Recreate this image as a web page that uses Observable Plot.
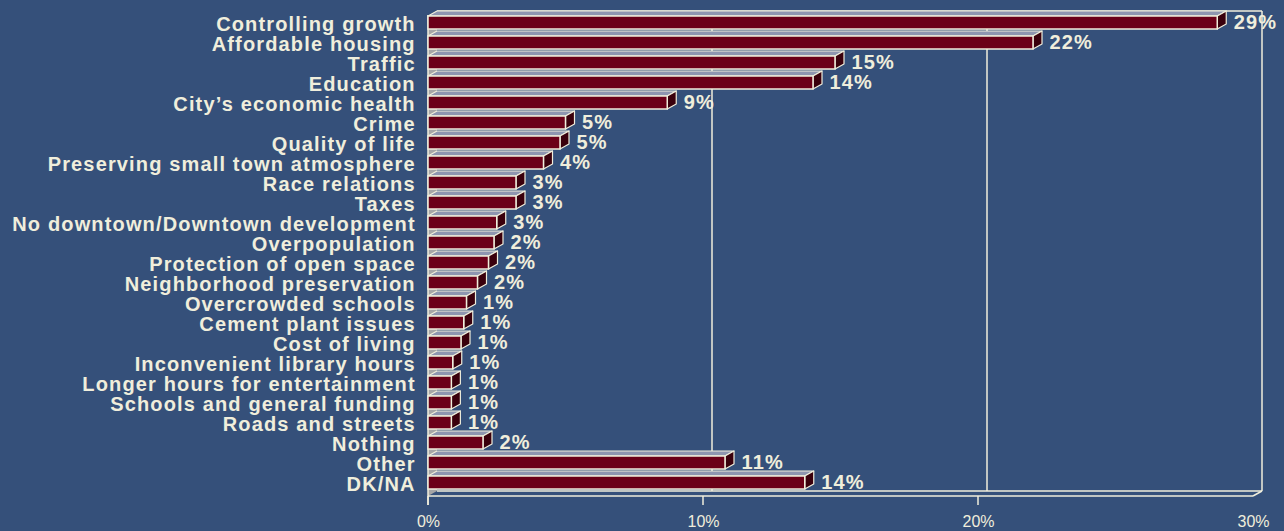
<!DOCTYPE html>
<html>
<head>
<meta charset="utf-8">
<script src="https://cdn.jsdelivr.net/npm/d3@7"></script>
<script src="https://cdn.jsdelivr.net/npm/@observablehq/plot@0.6"></script>
<style>
  html, body { margin: 0; padding: 0; background: #35507A; }
  #chart { width: 1284px; height: 531px; overflow: hidden; }
  g[aria-label="text"] text { letter-spacing: 1.15px; }
</style>
</head>
<body>
<div id="chart"></div>
<script>
const categories = [
  "Controlling growth", "Affordable housing", "Traffic", "Education",
  "City\u2019s economic health", "Crime", "Quality of life",
  "Preserving small town atmosphere", "Race relations", "Taxes",
  "No downtown/Downtown development", "Overpopulation",
  "Protection of open space", "Neighborhood preservation",
  "Overcrowded schools", "Cement plant issues", "Cost of living",
  "Inconvenient library hours", "Longer hours for entertainment",
  "Schools and general funding", "Roads and streets", "Nothing",
  "Other", "DK/NA"
];
const values = [28.7, 22.0, 14.8, 14.0, 8.7, 5.0, 4.8, 4.2, 3.2, 3.2, 2.5, 2.4,
  2.2, 1.8, 1.4, 1.3, 1.2, 0.9, 0.85, 0.85, 0.85, 2.0, 10.8, 13.7];
const valueLabels = ["29%", "22%", "15%", "14%", "9%", "5%", "5%", "4%", "3%", "3%",
  "3%", "2%", "2%", "2%", "1%", "1%", "1%", "1%", "1%", "1%", "1%", "2%", "11%", "14%"];
const xTicks = [0, 10, 20, 30];

const data = categories.map((c, i) => ({cat: c, value: values[i], label: valueLabels[i]}));

const BG = "#35507A", BAR = "#6B0018", SIDE = "#3A000C", TOP = "#8E96B0",
      WALL = "#A6A6A6", CREAM = "#F0EEDC";
const DX = 9, DY = -5;

function depthMark(index, scales, values_, dims) {
  const x = scales.x, y = scales.y;
  const bw = typeof y.bandwidth === "function" ? y.bandwidth() : 13.5;
  const ns = "http://www.w3.org/2000/svg";
  const g = document.createElementNS(ns, "g");
  const add = (tag, attrs) => {
    const el = document.createElementNS(ns, tag);
    for (const k in attrs) el.setAttribute(k, attrs[k]);
    g.appendChild(el);
    return el;
  };
  const poly = (pts, fill, stroke, sw) =>
    add("polygon", {points: pts.map(p => p.join(",")).join(" "), fill, stroke: stroke || "none", "stroke-width": sw || 0, "stroke-linejoin": "round"});
  const line = (x1, y1, x2, y2, sw) =>
    add("line", {x1, y1, x2, y2, stroke: CREAM, "stroke-width": sw || 1.5});

  const x0 = x(0), xEnd = x(xTicks[xTicks.length - 1]);
  const yFloor = dims.height - dims.marginBottom;
  const yTopFront = y(categories[0]);
  const yTopBack = yTopFront + DY;

  // left wall
  poly([[x0, yTopFront], [x0 + DX, yTopBack], [x0 + DX, yFloor + DY], [x0, yFloor]], WALL);
  // back wall top edge and grid lines
  line(x0 + DX, yTopBack, xEnd + DX, yTopBack);
  for (const t of xTicks.slice(1)) line(x(t) + DX, yTopBack, x(t) + DX, yFloor + DY);
  // floor
  line(x0 + DX, yFloor + DY, xEnd + DX, yFloor + DY);
  line(x0, yFloor, xEnd, yFloor);
  line(xEnd, yFloor, xEnd + DX, yFloor + DY);
  // left front edge
  line(x0, yTopFront - 1, x0, yFloor + 9);
  // ticks
  for (const t of xTicks.slice(0, 3)) line(x(t), yFloor, x(t), yFloor + 9);

  // bar top and side faces
  categories.forEach((c, i) => {
    const yT = y(c), yB = yT + bw, xv = x(values[i]);
    poly([[x0, yT], [xv, yT], [xv + DX, yT + DY], [x0 + DX, yT + DY]], TOP, CREAM, 1.2);
    poly([[xv, yT], [xv + DX, yT + DY], [xv + DX, yB + DY], [xv, yB]], SIDE, CREAM, 1.2);
  });
  return g;
}

const chart = Plot.plot({
  width: 1284,
  height: 531,
  marginLeft: 428,
  marginRight: 31,
  marginTop: 7,
  marginBottom: 35,
  style: {
    background: BG,
    color: CREAM,
    fontFamily: "'Liberation Sans', Arial, sans-serif",
    fontSize: "16px"
  },
  x: {
    domain: [0, 30],
    ticks: xTicks,
    tickFormat: d => d + "%",
    tickSize: 0,
    tickPadding: 19,
    label: null
  },
  y: {
    domain: categories,
    range: [7.3, 498.7],
    padding: 0.33,
    axis: null
  },
  marks: [
    depthMark,
    Plot.barX(data, {x1: 0, x2: "value", y: "cat", fill: BAR, stroke: CREAM, strokeWidth: 1.5}),
    Plot.text(data, {x: "value", y: "cat", text: "label", dx: DX + 7, dy: 0, textAnchor: "start",
      fill: CREAM, fontSize: 20, fontWeight: "bold"}),
    Plot.text(data, {x: () => 0, y: "cat", text: "cat", dx: -12.8, dy: 2, textAnchor: "end",
      fill: CREAM, fontSize: 20, fontWeight: "bold"})
  ]
});
document.getElementById("chart").appendChild(chart);
</script>
</body>
</html>
